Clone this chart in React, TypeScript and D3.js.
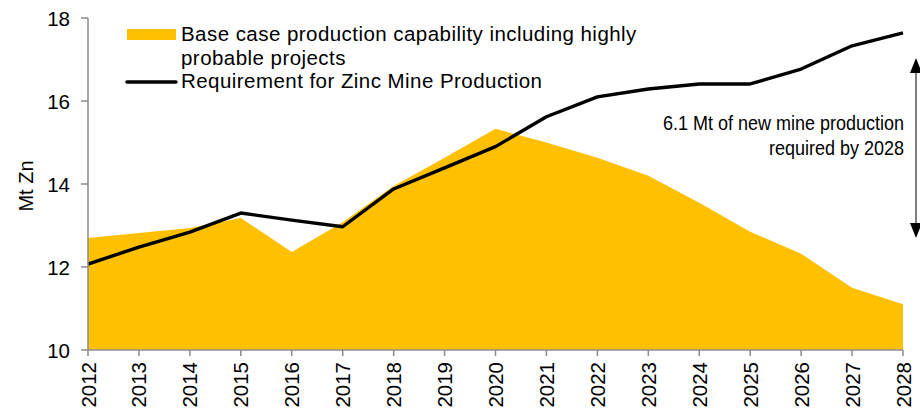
import React from 'react'
import * as d3 from 'd3'

const years = [2012, 2013, 2014, 2015, 2016, 2017, 2018, 2019, 2020, 2021, 2022, 2023, 2024, 2025, 2026, 2027, 2028]
// base case production capability (area)
const capability = [12.7, 12.82, 12.94, 13.18, 12.36, 13.08, 13.95, 14.63, 15.33, 15.0, 14.63, 14.2, 13.55, 12.85, 12.32, 11.5, 11.1]
// requirement for zinc mine production (line)
const requirement = [12.07, 12.48, 12.84, 13.3, 13.13, 12.97, 13.88, 14.39, 14.9, 15.62, 16.1, 16.29, 16.41, 16.41, 16.77, 17.33, 17.64]
const yTicks = [10, 12, 14, 16, 18]
const legendLabels = ['Base case production capability including highly', 'probable projects', 'Requirement for Zinc Mine Production']
const noteLines = ['6.1 Mt of new mine production', 'required by 2028']

const W = 920
const H = 411
const left = 88
const right = 903
const top = 18
const bottom = 350
const font = 'Liberation Sans, Arial, sans-serif'
const axisColor = '#8c8c8c'

export default function App() {
  const x = d3.scaleLinear().domain([2012, 2028]).range([left, right])
  const y = d3.scaleLinear().domain([10, 18]).range([bottom, top])

  const area = d3
    .area<number>()
    .x((d, i) => x(years[i]))
    .y0(y(10))
    .y1(d => y(d))
  const line = d3
    .line<number>()
    .x((d, i) => x(years[i]))
    .y(d => y(d))

  // double arrow next to 2028
  const arrowX = 916
  const arrowTop = 58
  const arrowBot = 238

  return (
    <svg width={W} height={H} style={{position: 'absolute', left: 0, top: 0}} fontFamily={font}>
      <path d={area(capability) || ''} fill="#ffc000" />
      <path d={line(requirement) || ''} fill="none" stroke="#000" strokeWidth={3.4} strokeLinejoin="round" />

      {/* y axis */}
      <line x1={left} x2={left} y1={top} y2={bottom} stroke={axisColor} strokeWidth={1.5} />
      {yTicks.map(t => (
        <g key={t}>
          <line x1={left - 7} x2={left} y1={y(t)} y2={y(t)} stroke={axisColor} strokeWidth={1.5} />
          <text x={70} y={y(t) + 7.5} textAnchor="end" fontSize={20.5} fill="#000">
            {t}
          </text>
        </g>
      ))}
      <text transform={`translate(33,${(top + bottom) / 2 + 2}) rotate(-90)`} textAnchor="middle" fontSize={20}>
        Mt Zn
      </text>

      {/* x axis */}
      <line x1={left} x2={right} y1={bottom} y2={bottom} stroke={axisColor} strokeWidth={1.5} />
      {years.map(yr => (
        <g key={yr}>
          <line x1={x(yr)} x2={x(yr)} y1={bottom} y2={bottom + 6} stroke={axisColor} strokeWidth={1.5} />
          <text transform={`translate(${x(yr) + 7.5},${bottom + 12}) rotate(-90)`} textAnchor="end" fontSize={20.5}>
            {yr}
          </text>
        </g>
      ))}

      {/* legend */}
      <rect x={127} y={29} width={49} height={11} fill="#ffc000" />
      <line x1={127} x2={176} y1={82} y2={82} stroke="#000" strokeWidth={3.4} strokeLinecap="round" />
      <text x={181} y={41} fontSize={20.5} letterSpacing={0.45}>{legendLabels[0]}</text>
      <text x={181} y={64.5} fontSize={20.5} letterSpacing={0.45}>{legendLabels[1]}</text>
      <text x={181} y={88} fontSize={20.5} letterSpacing={0.45}>{legendLabels[2]}</text>

      {/* annotation, narrow text */}
      <g transform="translate(904,0) scale(0.9,1)">
        <text x={0} y={130} textAnchor="end" fontSize={20}>
          {noteLines[0]}
        </text>
        <text x={0} y={155.5} textAnchor="end" fontSize={20}>
          {noteLines[1]}
        </text>
      </g>
      <line x1={arrowX} x2={arrowX} y1={arrowTop + 10} y2={arrowBot - 10} stroke="#000" strokeWidth={1} />
      <path d={`M${arrowX},${arrowTop} L${arrowX - 6},${arrowTop + 15} L${arrowX + 6},${arrowTop + 15} Z`} fill="#000" />
      <path d={`M${arrowX},${arrowBot} L${arrowX - 6},${arrowBot - 15} L${arrowX + 6},${arrowBot - 15} Z`} fill="#000" />
    </svg>
  )
}
